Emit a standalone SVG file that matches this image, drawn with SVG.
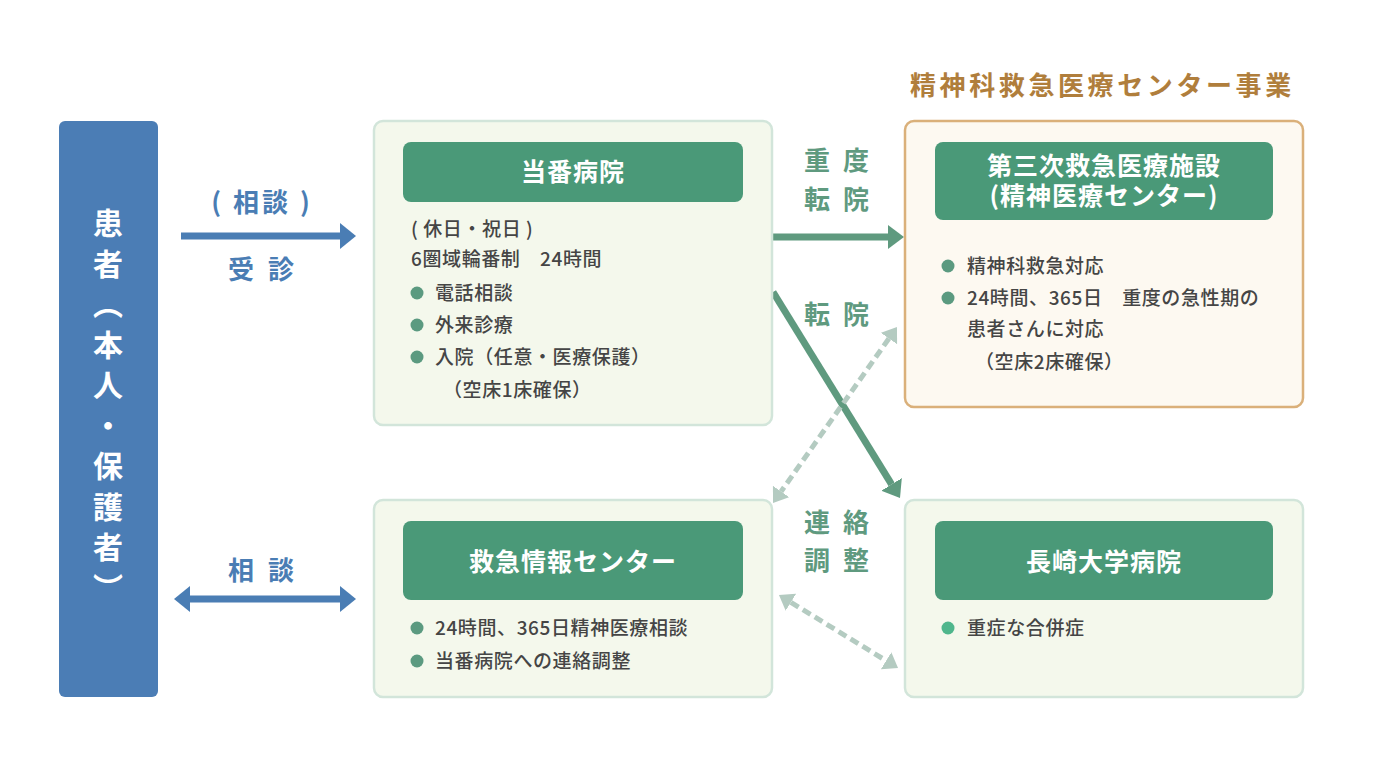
<svg xmlns="http://www.w3.org/2000/svg" width="1381" height="763" viewBox="0 0 1381 763">
<defs>
<style>
text{font-family:"Noto Sans CJK JP","Noto Sans",sans-serif;}
.box{fill:#f4f8ec;stroke:#d2e5da;stroke-width:2.5;}
.obox{fill:#fdf9f1;stroke:#dab07a;stroke-width:2.5;}
.hdr{fill:#4a9978;}
.ht{fill:#ffffff;font-size:25px;font-weight:700;text-anchor:middle;letter-spacing:1px;}
.bt{fill:#454545;font-size:19px;font-weight:500;letter-spacing:0.6px;}
.dot{fill:#5b9a80;}
.pt{fill:#ffffff;font-size:30px;font-weight:700;writing-mode:vertical-rl;letter-spacing:10.5px;}
.bl{fill:#4a7db4;font-size:26px;font-weight:700;}
.gl{fill:#5f9a7f;font-size:26px;font-weight:700;}
.ab{stroke:#4a7db4;stroke-width:7;fill:none;}
.ag{stroke:#5f9a7f;stroke-width:7;fill:none;}
.ad{stroke:#b4cbc1;stroke-width:5;fill:none;stroke-dasharray:9 5;}
</style>
<marker id="mb" markerUnits="userSpaceOnUse" markerWidth="16" markerHeight="26" refX="0" refY="13" orient="auto-start-reverse"><path d="M0,0 L16,13 L0,26 Z" fill="#4a7db4"/></marker>
<marker id="mg" markerUnits="userSpaceOnUse" markerWidth="16" markerHeight="24" refX="0" refY="12" orient="auto-start-reverse"><path d="M0,0 L16,12 L0,24 Z" fill="#5f9a7f"/></marker>
<marker id="md" markerUnits="userSpaceOnUse" markerWidth="14" markerHeight="20" refX="0" refY="10" orient="auto-start-reverse"><path d="M0,0 L14,10 L0,20 Z" fill="#b4cbc1"/></marker>
</defs>
<rect width="1381" height="763" fill="#ffffff"/>

<g id="connectors">
<line class="ab" x1="181" y1="236" x2="340" y2="236" marker-end="url(#mb)"/>
<text class="bl" x="262" y="212" text-anchor="middle" letter-spacing="3">( 相談 )</text>
<text class="bl" x="228" y="279" letter-spacing="14">受診</text>
<line class="ab" x1="190" y1="599" x2="340" y2="599" marker-start="url(#mb)" marker-end="url(#mb)"/>
<text class="bl" x="228" y="580" letter-spacing="14">相談</text>

<line class="ag" x1="772" y1="237" x2="888" y2="237" marker-end="url(#mg)"/>
<text class="gl" x="804" y="170" letter-spacing="13">重度</text>
<text class="gl" x="804" y="209" letter-spacing="13">転院</text>
<line class="ag" x1="773" y1="292" x2="891.6" y2="484.4" marker-end="url(#mg)"/>
<text class="gl" x="804" y="324" letter-spacing="13">転院</text>
<line class="ad" x1="888.9" y1="338.5" x2="781.1" y2="491.5" marker-start="url(#md)" marker-end="url(#md)"/>
<text class="gl" x="804" y="532" letter-spacing="13">連絡</text>
<text class="gl" x="804" y="570" letter-spacing="13">調整</text>
<line class="ad" x1="790.9" y1="602.3" x2="886.1" y2="660.7" marker-start="url(#md)" marker-end="url(#md)"/>
</g>

<g id="patient">
<rect x="59" y="121" width="99" height="576" rx="6" fill="#4b7db5"/>
<text class="pt" x="108" y="208">患者（本人・保護者）</text>
</g>

<g id="touban">
<rect class="box" x="374" y="121" width="398" height="304" rx="9"/>
<rect class="hdr" x="403" y="142" width="340" height="60" rx="8"/>
<text class="ht" x="573" y="181">当番病院</text>
<text class="bt" x="411" y="236">( 休日・祝日 )</text>
<text class="bt" x="411" y="266">6圏域輪番制　24時間</text>
<circle class="dot" cx="417" cy="293" r="6.5"/>
<text class="bt" x="435" y="300">電話相談</text>
<circle class="dot" cx="417" cy="325" r="6.5"/>
<text class="bt" x="435" y="332">外来診療</text>
<circle class="dot" cx="417" cy="357" r="6.5"/>
<text class="bt" x="435" y="364">入院（任意・医療保護）</text>
<text class="bt" x="443" y="397">（空床1床確保）</text>
</g>

<g id="seishin">
<text x="910" y="95" font-size="26" font-weight="700" fill="#b07e3c" letter-spacing="3.6">精神科救急医療センター事業</text>
<rect class="obox" x="905" y="121" width="398" height="286" rx="9"/>
<rect class="hdr" x="935" y="142" width="338" height="78" rx="8"/>
<text class="ht" x="1104" y="175">第三次救急医療施設<tspan x="1104" dy="30">(精神医療センター)</tspan></text>
<circle class="dot" cx="948" cy="266" r="6.5"/>
<text class="bt" x="967" y="273">精神科救急対応</text>
<circle class="dot" cx="948" cy="298" r="6.5"/>
<text class="bt" x="967" y="305">24時間、365日　重度の急性期の</text>
<text class="bt" x="967" y="336">患者さんに対応</text>
<text class="bt" x="975" y="369">（空床2床確保）</text>
</g>

<g id="kyukyu">
<rect class="box" x="374" y="500" width="398" height="197" rx="9"/>
<rect class="hdr" x="403" y="521" width="340" height="79" rx="8"/>
<text class="ht" x="573" y="571">救急情報センター</text>
<circle class="dot" cx="417" cy="628" r="6.5"/>
<text class="bt" x="435" y="635">24時間、365日精神医療相談</text>
<circle class="dot" cx="417" cy="661" r="6.5"/>
<text class="bt" x="435" y="668">当番病院への連絡調整</text>
</g>

<g id="nagasaki">
<rect class="box" x="905" y="500" width="398" height="197" rx="9"/>
<rect class="hdr" x="935" y="521" width="338" height="79" rx="8"/>
<text class="ht" x="1104" y="571">長崎大学病院</text>
<circle cx="948" cy="628" r="6.5" fill="#4fb68c"/>
<text class="bt" x="967" y="635">重症な合併症</text>
</g>
</svg>
